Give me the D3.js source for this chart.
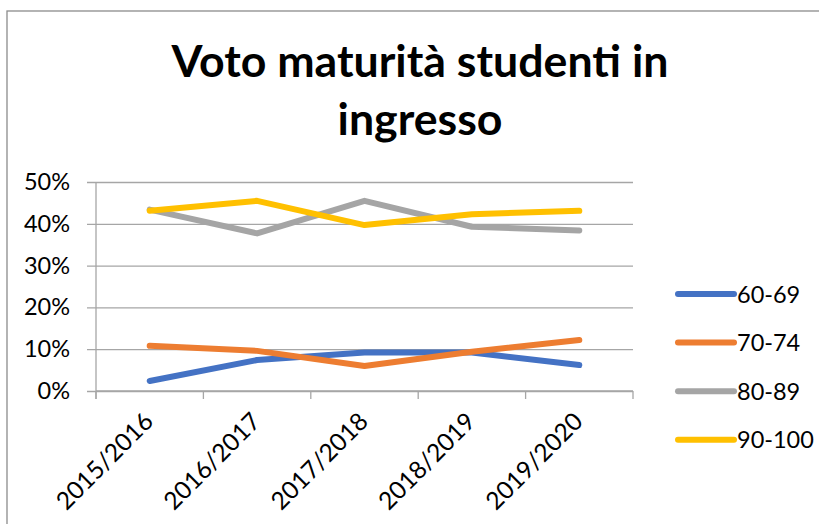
<!DOCTYPE html>
<html>
<head>
<meta charset="utf-8">
<script src="https://cdn.jsdelivr.net/npm/d3@7"></script>
<style>
  body { margin: 0; background: #fff; }
  text { font-family: Lato, "Liberation Sans", sans-serif; fill: #000; }
</style>
</head>
<body>
<div id="chart"></div>
<script>
// data
var years = ["2015/2016", "2016/2017", "2017/2018", "2018/2019", "2019/2020"];
var seriesNames = ["60-69", "70-74", "80-89", "90-100"];
var v6069 = [0.024, 0.074, 0.092, 0.092, 0.062];
var v7074 = [0.108, 0.096, 0.060, 0.094, 0.122];
var v8089 = [0.434, 0.377, 0.455, 0.393, 0.384];
var v90100 = [0.431, 0.455, 0.397, 0.423, 0.431];
var colors = ["#4472C4", "#ED7D31", "#A5A5A5", "#FFC000"];
var yTicks = [0, 0.1, 0.2, 0.3, 0.4, 0.5];

var allSeries = [v6069, v7074, v8089, v90100];

var svgWidth = 819, svgHeight = 524;
var svg = d3.select("#chart").append("svg")
  .attr("width", svgWidth)
  .attr("height", svgHeight);

// chart frame (runs off the right and bottom edge)
svg.append("rect")
  .attr("x", 7).attr("y", 11)
  .attr("width", 900).attr("height", 600)
  .attr("fill", "none")
  .attr("stroke", "#8c8c8c")
  .attr("stroke-width", 1.3);

// title, fitted to the width of the original
var title = svg.append("text")
  .attr("text-anchor", "middle")
  .attr("font-weight", "bold")
  .attr("font-size", 44);
title.append("tspan").attr("x", 420).attr("y", 77).text("Voto maturità studenti in");
title.append("tspan").attr("x", 420).attr("y", 135).text("ingresso");
var w = title.select("tspan").node().getComputedTextLength();
title.attr("font-size", 44 * 497 / w);

var plot = { left: 96, right: 633, top: 182, bottom: 391 };

var x = d3.scaleBand().domain(years).range([plot.left, plot.right]);
var y = d3.scaleLinear().domain([0, 0.5]).range([plot.bottom, plot.top]);

// gridlines
var yAxis = d3.axisLeft(y)
  .tickValues(yTicks)
  .tickFormat(d3.format(".0%"))
  .tickSize(-(plot.right - plot.left))
  .tickPadding(26);

var gy = svg.append("g")
  .attr("transform", `translate(${plot.left},0)`)
  .call(yAxis);
gy.select(".domain").remove();
gy.selectAll(".tick line")
  .attr("x1", -9)
  .attr("stroke", "#a6a6a6")
  .attr("stroke-width", 1.3);
gy.selectAll(".tick text")
  .attr("font-size", 23.5)
  .attr("font-family", "Lato, sans-serif");

// vertical axis line
svg.append("line")
  .attr("x1", plot.left).attr("x2", plot.left)
  .attr("y1", plot.top).attr("y2", plot.bottom + 8)
  .attr("stroke", "#a6a6a6")
  .attr("stroke-width", 1.3);

// category axis: ticks at band edges
var edges = years.map(d => x(d)).concat([plot.right]);
svg.append("g").selectAll("line")
  .data(edges)
  .enter().append("line")
  .attr("x1", d => d).attr("x2", d => d)
  .attr("y1", plot.bottom).attr("y2", plot.bottom + 8)
  .attr("stroke", "#a6a6a6")
  .attr("stroke-width", 1.3);
svg.append("line")
  .attr("x1", plot.left).attr("x2", plot.right)
  .attr("y1", plot.bottom).attr("y2", plot.bottom)
  .attr("stroke", "#a6a6a6")
  .attr("stroke-width", 1.3);

svg.append("g").selectAll("text")
  .data(years)
  .enter().append("text")
  .attr("text-anchor", "end")
  .attr("font-size", 24.5)
  .attr("transform", d => {
    var cx = x(d) + x.bandwidth() / 2 + 5;
    var cy = plot.bottom + 32;
    return `translate(${cx},${cy}) rotate(-45)`;
  })
  .text(d => d);

// lines
var line = d3.line()
  .x((d, i) => x(years[i]) + x.bandwidth() / 2)
  .y(d => y(d));

svg.append("g").selectAll("path")
  .data(allSeries)
  .enter().append("path")
  .attr("d", d => line(d))
  .attr("fill", "none")
  .attr("stroke", (d, i) => colors[i])
  .attr("stroke-width", 6)
  .attr("stroke-linecap", "round")
  .attr("stroke-linejoin", "round");

// legend
var legend = svg.append("g").selectAll("g")
  .data(seriesNames)
  .enter().append("g")
  .attr("transform", (d, i) => `translate(678,${294 + i * 48.6})`);
legend.append("line")
  .attr("x1", 0).attr("x2", 56)
  .attr("stroke", (d, i) => colors[i])
  .attr("stroke-width", 6)
  .attr("stroke-linecap", "round");
legend.append("text")
  .attr("x", 59)
  .attr("y", 8.5)
  .attr("font-size", 23.5)
  .text(d => d);
</script>
</body>
</html>
